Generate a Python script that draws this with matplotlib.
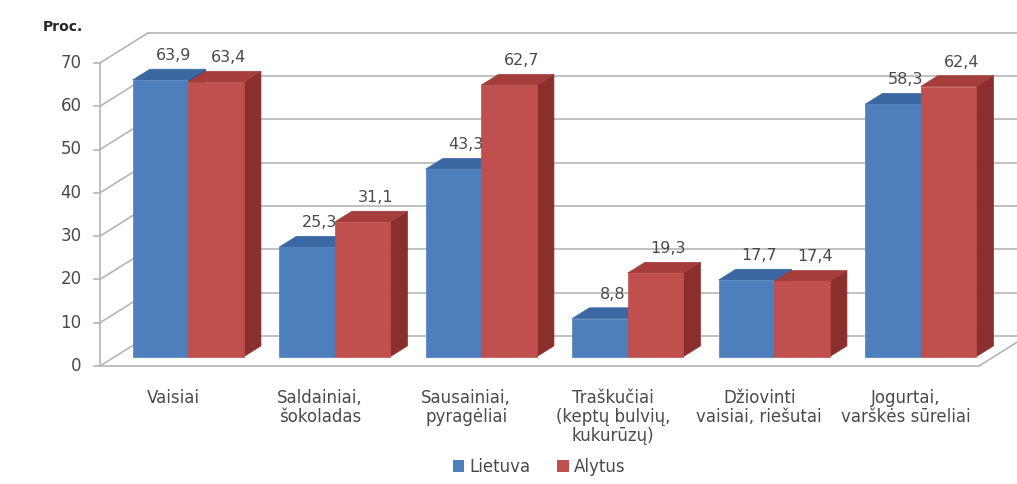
import matplotlib
matplotlib.use("Agg")
import matplotlib.pyplot as plt
from matplotlib.patches import Polygon, Patch

# ---- data ----
categories = ["Vaisiai", "Saldainiai,\nšokoladas", "Sausainiai,\npyragėliai",
              "Traškučiai\n(keptų bulvių,\nkukurūzų)", "Džiovinti\nvaisiai, riešutai",
              "Jogurtai,\nvarškės sūreliai"]
lietuva = [63.9, 25.3, 43.3, 8.8, 17.7, 58.3]
alytus = [63.4, 31.1, 62.7, 19.3, 17.4, 62.4]
series_names = ["Lietuva", "Alytus"]
y_ticks = [0, 10, 20, 30, 40, 50, 60, 70]
y_label = "Proc."

# ---- style / geometry ----
W, H = 1017, 484
fig = plt.figure(figsize=(W / 100, H / 100), dpi=100)
ax = fig.add_axes([0, 0, 1, 1])
ax.set_axis_off()

px_per_cat = 146.5
px_per_val = 4.33
x0_px, y0_px = 100, 366
ax.set_xlim(-x0_px / px_per_cat, (W - x0_px) / px_per_cat)
ax.set_ylim((y0_px - H) / px_per_val, y0_px / px_per_val)

DX = 48 / px_per_cat    # full depth offset (category units)
DY = 30 / px_per_val    # full depth offset (value units)
f_front, f_top = 0.31, 0.36
ox, oy = DX * f_front, DY * f_front
tx, ty = DX * f_top, DY * f_top
bw = 0.379
ncat = len(categories)
vmax = max(y_ticks)

grid_c = "#b5b5b5"
txt_c = "#4a4a4a"

# walls / floor
for v in y_ticks:
    ax.plot([DX, ncat + DX + 1], [v + DY, v + DY], color=grid_c, lw=1.2, zorder=1)
    ax.plot([0, DX], [v, v + DY], color=grid_c, lw=1.2, zorder=1)
    ax.plot([-0.04, 0], [v, v], color=grid_c, lw=1.2, zorder=1)
    ax.text(-0.125, v, str(v), ha="right", va="center", fontsize=12, color=txt_c)
ax.plot([0, 0], [0, vmax], color=grid_c, lw=1.2, zorder=1)
ax.plot([0, ncat, ncat + DX], [0, 0, DY], color=grid_c, lw=1.2, zorder=1)

colors = [
    {"front": "#4d7fbd", "top": "#3b68a3", "side": "#2f5587"},
    {"front": "#c0504d", "top": "#a53e3b", "side": "#8a2f2c"},
]

def bar3d(xl, v, c):
    xr = xl + bw
    front = [(xl + ox, oy), (xr + ox, oy), (xr + ox, v + oy), (xl + ox, v + oy)]
    top = [(xl + ox, v + oy), (xr + ox, v + oy), (xr + ox + tx, v + oy + ty), (xl + ox + tx, v + oy + ty)]
    side = [(xr + ox, oy), (xr + ox + tx, oy + ty), (xr + ox + tx, v + oy + ty), (xr + ox, v + oy)]
    for pts, col in ((side, c["side"]), (top, c["top"]), (front, c["front"])):
        ax.add_patch(Polygon(pts, closed=True, facecolor=col, edgecolor=col, lw=0.5, zorder=3))

for i in range(ncat):
    for s, vals in enumerate((lietuva, alytus)):
        xl = i + 0.5 - bw + s * bw
        v = vals[i]
        bar3d(xl, v, colors[s])
        ax.text(xl + bw / 2 + ox + 0.75 * tx, v + oy + ty + 1.4,
                f"{v:.1f}".replace(".", ","), ha="center", va="bottom",
                fontsize=11.5, color=txt_c, zorder=5)
    ax.text(i + 0.5, -5.2, categories[i], ha="center", va="top", fontsize=12,
            color=txt_c, linespacing=1.1)

fig.text(43 / W, 1 - 27 / H, y_label, ha="left", va="center", fontsize=10,
         fontweight="bold", color="#262626")

handles = [Patch(facecolor=colors[0]["front"]), Patch(facecolor=colors[1]["front"])]
fig.legend(handles, series_names, loc="center", bbox_to_anchor=(539 / W, 1 - 467 / H),
           ncol=2, frameon=False, fontsize=12, handlelength=0.7, handleheight=0.7,
           handletextpad=0.3, columnspacing=1.6, labelcolor=txt_c)

fig.savefig("out.png", dpi=100, facecolor="white")
